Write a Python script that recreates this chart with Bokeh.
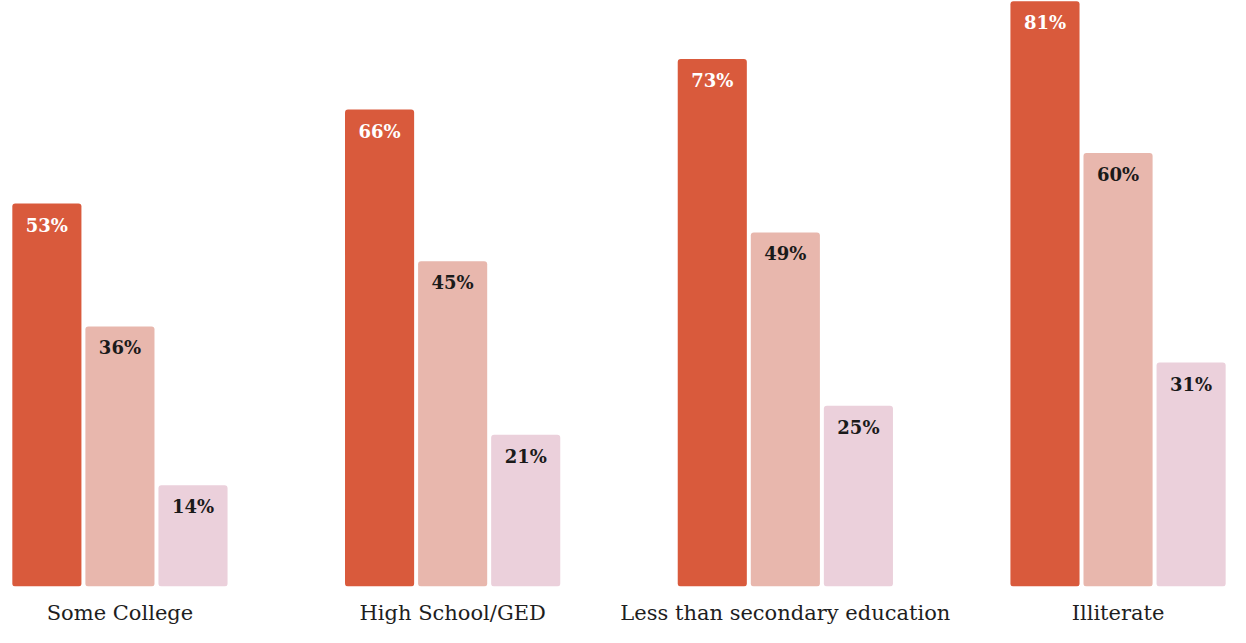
from bokeh.plotting import figure
from bokeh.models import ColumnDataSource, Range1d, FixedTicker
from bokeh.core.properties import value
from bokeh.embed import file_html
from bokeh.resources import INLINE

categories = ["Some College", "High School/GED", "Less than secondary education", "Illiterate"]
series_a = [53, 66, 73, 81]
series_b = [36, 45, 49, 60]
series_c = [14, 21, 25, 31]

colors = ["#D95A3C", "#E8B7AD", "#EBD0DB"]
label_colors = ["#FFFFFF", "#1A1A1A", "#1A1A1A"]
series = [series_a, series_b, series_c]
offsets = [-0.2196, 0.0, 0.2196]
bar_w = 0.2077

p = figure(width=1230, height=627, output_backend="svg", toolbar_location=None,
           x_range=Range1d(-0.359, 3.338), y_range=Range1d(0, 81.1),
           min_border_left=0, min_border_right=0, min_border_top=0, min_border_bottom=33)
p.outline_line_color = None
p.grid.visible = False
p.yaxis.visible = False
p.background_fill_color = "white"

for vals, off, col, lcol in zip(series, offsets, colors, label_colors):
    xs = [i + off for i in range(len(categories))]
    src = ColumnDataSource(dict(x=xs, top=vals, lab=[f"{v}%" for v in vals]))
    p.vbar(x="x", top="top", bottom=0, width=bar_w, source=src, fill_color=col,
           line_color=None, border_radius=3)
    p.text(x="x", y="top", text="lab", source=src, text_align="center",
           text_baseline="top", y_offset=11, text_color=lcol,
           text_font=value("DejaVu Serif"), text_font_style="bold",
           text_font_size="18px")

xa = p.xaxis[0]
xa.ticker = FixedTicker(ticks=list(range(len(categories))))
xa.major_label_overrides = {i: c for i, c in enumerate(categories)}
xa.axis_line_color = None
xa.major_tick_line_color = None
xa.minor_tick_line_color = None
xa.major_label_text_font = "DejaVu Serif"
xa.major_label_text_font_size = "21px"
xa.major_label_text_color = "#1E1E1E"
xa.major_label_standoff = 8

open("out.html", "w").write(file_html(p, INLINE))
